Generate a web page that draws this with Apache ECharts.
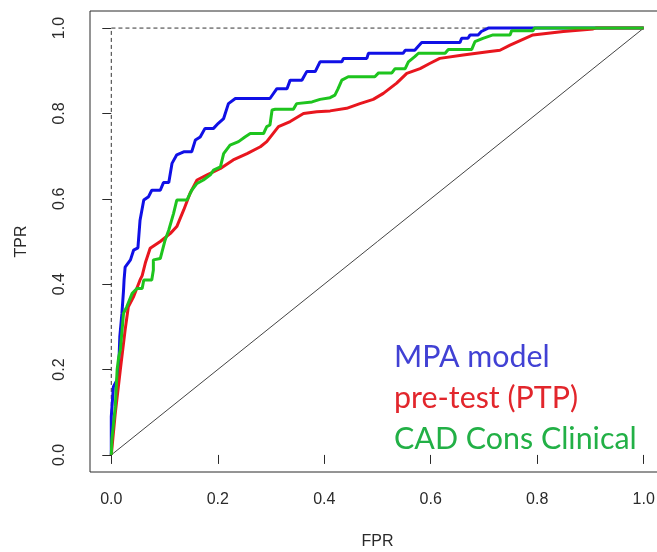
<!DOCTYPE html>
<html>
<head>
<meta charset="utf-8">
<script src="https://cdn.jsdelivr.net/npm/echarts@6/dist/echarts.min.js"></script>
<style>
html,body{margin:0;padding:0;background:#fff;}
#chart{width:657px;height:552px;}
</style>
</head>
<body>
<div id="chart"></div>
<script>
// Tick values
var tickValues = [0, 0.2, 0.4, 0.6, 0.8, 1.0];

// MPA model (blue)
var mpaFpr = [0,0,0.004,0.011,0.014,0.016,0.02,0.023,0.024,0.026,0.036,0.042,0.05,0.054,0.061,0.07,0.076,0.092,0.098,0.108,0.114,0.123,0.136,0.151,0.158,0.167,0.176,0.192,0.201,0.211,0.22,0.233,0.298,0.311,0.33,0.336,0.358,0.367,0.383,0.392,0.433,0.436,0.48,0.483,0.548,0.552,0.57,0.577,0.583,0.655,0.658,0.67,0.674,0.689,0.695,0.708,1.0];
var mpaTpr = [0,0.09,0.16,0.176,0.207,0.277,0.332,0.386,0.41,0.44,0.457,0.48,0.485,0.55,0.597,0.605,0.62,0.62,0.638,0.638,0.683,0.703,0.71,0.71,0.738,0.745,0.765,0.765,0.777,0.788,0.823,0.835,0.835,0.858,0.858,0.878,0.878,0.898,0.898,0.921,0.921,0.929,0.929,0.941,0.941,0.948,0.948,0.958,0.966,0.966,0.976,0.976,0.984,0.984,0.992,1.0,1.0];

// pre-test (PTP) (red)
var ptpFpr = [0,0.0075,0.017,0.026,0.032,0.042,0.054,0.058,0.064,0.073,0.092,0.111,0.123,0.136,0.148,0.161,0.18,0.205,0.229,0.255,0.28,0.292,0.314,0.336,0.361,0.386,0.411,0.442,0.467,0.492,0.511,0.536,0.555,0.58,0.598,0.617,0.661,0.711,0.73,0.749,0.77,0.792,0.849,0.905,0.91,1.0];
var ptpTpr = [0,0.098,0.2,0.293,0.347,0.371,0.41,0.42,0.45,0.484,0.5,0.519,0.535,0.574,0.613,0.644,0.656,0.671,0.691,0.706,0.722,0.734,0.769,0.781,0.8,0.804,0.806,0.812,0.823,0.833,0.847,0.871,0.894,0.905,0.917,0.929,0.937,0.945,0.948,0.96,0.972,0.984,0.992,0.998,1.0,1.0];

// CAD Cons Clinical (green)
var cadFpr = [0,0.001,0.0075,0.011,0.014,0.017,0.023,0.029,0.039,0.048,0.058,0.061,0.076,0.079,0.079,0.092,0.101,0.108,0.117,0.123,0.142,0.151,0.161,0.173,0.186,0.192,0.205,0.211,0.223,0.239,0.251,0.261,0.286,0.292,0.298,0.302,0.308,0.342,0.348,0.377,0.392,0.411,0.42,0.426,0.433,0.445,0.495,0.502,0.527,0.533,0.552,0.558,0.57,0.577,0.627,0.633,0.677,0.683,0.698,0.717,0.749,0.752,0.792,0.795,1.0];
var cadTpr = [0,0.035,0.113,0.2,0.23,0.246,0.332,0.347,0.378,0.39,0.39,0.41,0.41,0.433,0.457,0.46,0.503,0.527,0.566,0.597,0.597,0.62,0.636,0.644,0.656,0.667,0.675,0.706,0.726,0.734,0.745,0.753,0.753,0.769,0.773,0.808,0.81,0.81,0.823,0.827,0.833,0.837,0.843,0.858,0.878,0.886,0.886,0.895,0.895,0.905,0.905,0.921,0.933,0.941,0.941,0.95,0.95,0.968,0.976,0.984,0.984,0.994,0.994,1.0,1.0];

// Reference lines
var diagX = [0, 1], diagY = [0, 1];
var idealX = [0, 0, 1], idealY = [0, 1, 1];

var legendLabels = ['MPA model', 'pre-test (PTP)', 'CAD Cons Clinical'];

function pairs(xs, ys) { return xs.map(function (x, i) { return [x, ys[i]]; }); }

var chart = echarts.init(document.getElementById('chart'), null, {renderer: 'canvas'});

var axisFont = {fontFamily: 'Liberation Sans, Arial, sans-serif', fontSize: 16, color: '#2a2a2a'};

chart.setOption({
  animation: false,
  backgroundColor: '#ffffff',
  grid: {
    left: 90, right: -8, top: 11, bottom: 80,
    outerBoundsMode: 'none', containLabel: false,
    show: true, borderColor: '#2a2a2a', borderWidth: 1, backgroundColor: 'transparent'
  },
  xAxis: {
    type: 'value', min: -0.04, max: 1.04,
    name: 'FPR', nameLocation: 'middle', nameGap: 62,
    nameTextStyle: axisFont,
    axisLine: {show: false},
    splitLine: {show: false},
    axisTick: {show: true, length: 9, customValues: tickValues, lineStyle: {color: '#2a2a2a'}},
    axisLabel: Object.assign({customValues: tickValues, margin: 20, formatter: function (v) { return v.toFixed(1); }}, axisFont)
  },
  yAxis: {
    type: 'value', min: -0.04, max: 1.04,
    name: 'TPR', nameLocation: 'middle', nameGap: 60, nameRotate: 90,
    nameTextStyle: axisFont,
    axisLine: {show: false},
    splitLine: {show: false},
    axisTick: {show: true, length: 9, customValues: tickValues, lineStyle: {color: '#2a2a2a'}},
    axisLabel: Object.assign({customValues: tickValues, margin: 22, rotate: 90, formatter: function (v) { return v.toFixed(1); }}, axisFont)
  },
  series: [
    {type: 'line', data: pairs(diagX, diagY), symbol: 'none', silent: true,
     lineStyle: {color: '#444', width: 1}},
    {type: 'line', data: pairs(idealX, idealY), symbol: 'none', silent: true,
     lineStyle: {color: '#333', width: 1, type: [4, 3]}},
    {type: 'line', name: legendLabels[0], data: pairs(mpaFpr, mpaTpr), symbol: 'none', silent: true,
     lineStyle: {color: '#1010e6', width: 3}},
    {type: 'line', name: legendLabels[1], data: pairs(ptpFpr, ptpTpr), symbol: 'none', silent: true,
     lineStyle: {color: '#e8161e', width: 3}},
    {type: 'line', name: legendLabels[2], data: pairs(cadFpr, cadTpr), symbol: 'none', silent: true,
     lineStyle: {color: '#1ec41e', width: 3}}
  ],
  graphic: [
    {type: 'text', x: 394, y: 357, style: {text: legendLabels[0], fill: '#4141d4', font: '30.4px Lato, sans-serif', textAlign: 'left', textVerticalAlign: 'middle'}},
    {type: 'text', x: 394, y: 398, style: {text: legendLabels[1], fill: '#e2262c', font: '30.4px Lato, sans-serif', textAlign: 'left', textVerticalAlign: 'middle'}},
    {type: 'text', x: 394, y: 439, style: {text: legendLabels[2], fill: '#22b046', font: '30.4px Lato, sans-serif', textAlign: 'left', textVerticalAlign: 'middle'}}
  ]
});
</script>
</body>
</html>
